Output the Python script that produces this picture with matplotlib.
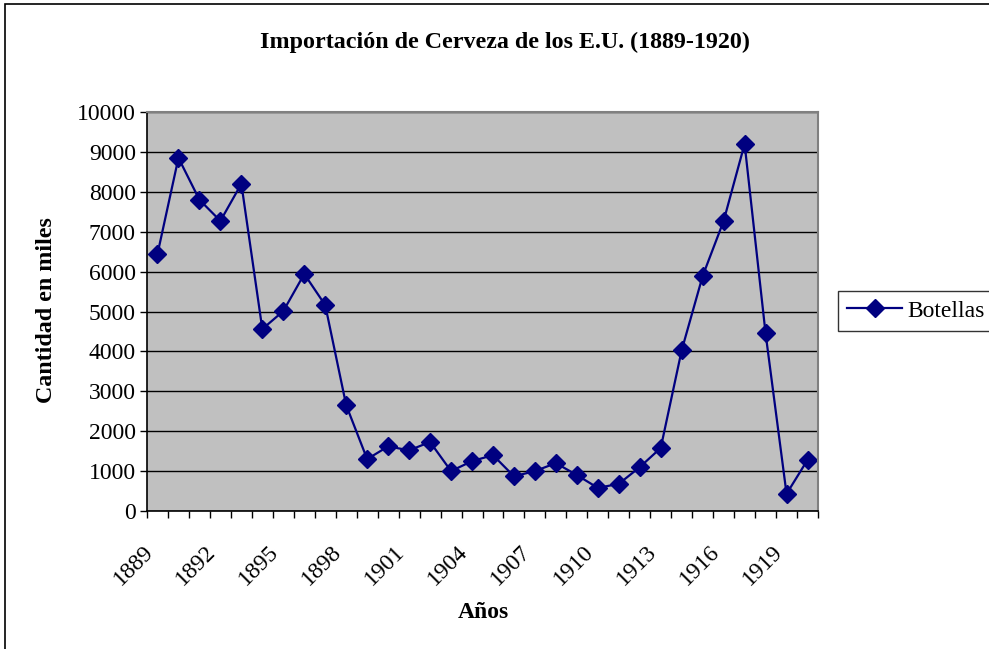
import matplotlib.pyplot as plt
from matplotlib.patches import Rectangle
from matplotlib.transforms import ScaledTranslation

years = list(range(1889, 1921))
botellas = [6440, 8850, 7800, 7270, 8200, 4560, 5010, 5940, 5160, 2650,
            1300, 1620, 1520, 1730, 1000, 1250, 1400, 870, 1000, 1200,
            900, 580, 680, 1100, 1580, 4030, 5890, 7270, 9200, 4450,
            430, 1280]
label_years = years[::3]

plt.rcParams['font.family'] = ['Liberation Serif', 'DejaVu Serif']

fig = plt.figure(figsize=(9.89, 6.49), dpi=100)
ax = fig.add_axes([147/989, 1-511/649, (818-147)/989, (511-112)/649])
ax.set_facecolor('#C0C0C0')

x = list(range(len(years)))
ax.plot(x, botellas, color='#000080', lw=1.6, marker='D', markersize=9,
        label='Botellas')

ax.set_xlim(-0.5, len(years) - 0.5)
ax.set_ylim(0, 10000)
ax.set_yticks(range(0, 10001, 1000))
ax.yaxis.grid(True, color='black', lw=1)
ax.set_axisbelow(True)
ax.tick_params(axis='y', labelsize=17, length=5, width=1, direction='out', pad=3)

# category boundaries as tick marks, labels every 3 years
ax.set_xticks([i - 0.5 for i in range(len(years) + 1)], minor=True)
ax.set_xticks([years.index(y) for y in label_years])
ax.set_xticklabels([str(y) for y in label_years], rotation=45, ha='right',
                   rotation_mode='anchor', fontsize=17)
ax.tick_params(axis='x', which='major', length=0, pad=14)
ax.tick_params(axis='x', which='minor', length=5, width=1, direction='out')
shift = ScaledTranslation(-0.15, -0.11, fig.dpi_scale_trans)
for lab in ax.get_xticklabels():
    lab.set_transform(lab.get_transform() + shift)

for side in ['top', 'right']:
    ax.spines[side].set_color('#808080')
    ax.spines[side].set_linewidth(1.5)
for side in ['left', 'bottom']:
    ax.spines[side].set_color('black')
    ax.spines[side].set_linewidth(1.2)

fig.text(505/989, 1-42/649, 'Importación de Cerveza de los E.U. (1889-1920)',
         ha='center', va='center', fontsize=17.3, fontweight='bold')
fig.text(483/989, 1-612/649, 'Años', ha='center', va='center',
         fontsize=17, fontweight='bold')
fig.text(47/989, 1-310/649, 'Cantidad en miles', ha='center', va='center',
         rotation=90, fontsize=17.3, fontweight='bold')

leg = fig.legend(loc='center left', bbox_to_anchor=(838/989, 1-311/649),
                 fontsize=17, frameon=True, fancybox=False, handlelength=2.3,
                 borderpad=0.4, handletextpad=0.25, borderaxespad=0)
leg.get_frame().set_edgecolor('black')
leg.get_frame().set_linewidth(1)

fig.patches.append(Rectangle((5/989, -0.1), 1.2, 1.1 - 4/649,
                             transform=fig.transFigure, fill=False,
                             ec='black', lw=1.2))

fig.savefig('out.png', dpi=100)
